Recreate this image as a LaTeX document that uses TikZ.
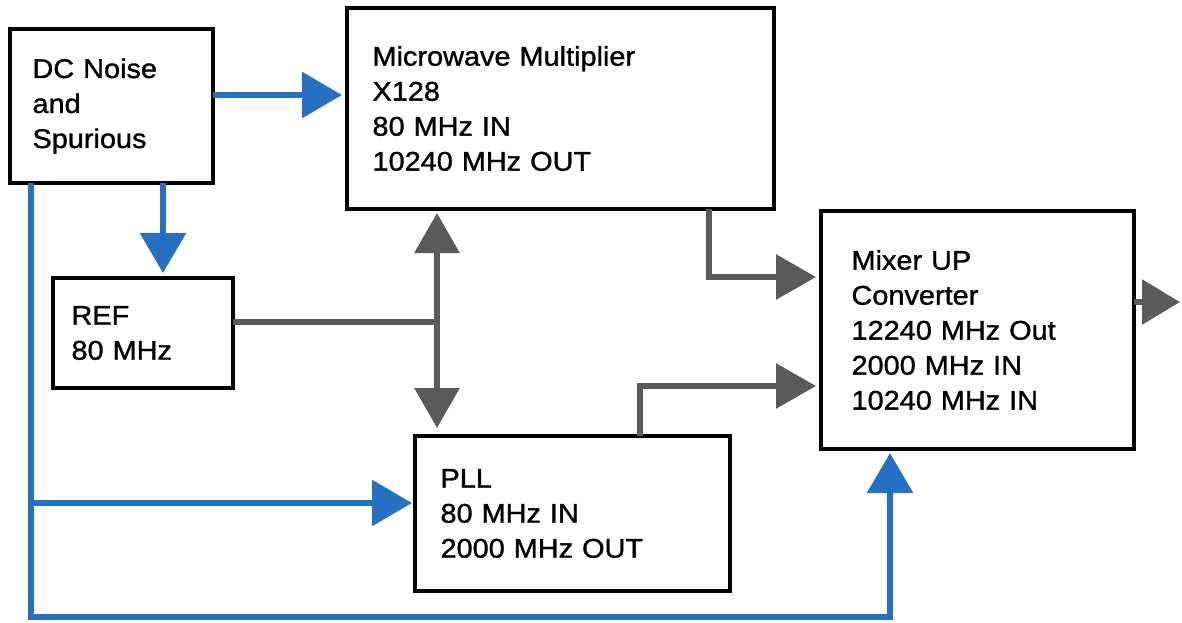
\documentclass[tikz,border=0pt]{standalone}
\usepackage{fontspec}
\setmainfont[FakeStretch=1.07,FakeBold=1.2]{Liberation Sans}
\usetikzlibrary{arrows.meta}
\definecolor{sigblue}{RGB}{38,112,196}
\definecolor{siggray}{RGB}{90,90,90}
\begin{document}
\begin{tikzpicture}[x=1pt,y=-1pt,every node/.style={font=\fontsize{27}{35}\selectfont}]
\tikzset{blk/.style={draw,line width=4pt,outer sep=0pt,anchor=north west,align=left,inner ysep=0pt},
  bl/.style={sigblue,line width=6pt},gr/.style={siggray,line width=6pt}}
\useasboundingbox (0,0) rectangle (1182,622);
\node[blk,minimum width=203pt,minimum height=154pt,inner xsep=22pt,text width=158pt] (dc) at (10,29) {DC Noise\\and\\Spurious};
\node[blk,minimum width=427pt,minimum height=201pt,inner xsep=25pt,text width=376pt] (mult) at (347,8) {Microwave Multiplier\\X128\\80 MHz IN\\10240 MHz OUT};
\node[blk,minimum width=180pt,minimum height=110pt,inner xsep=18pt,text width=143pt] (ref) at (53,278) {REF\\80 MHz};
\node[blk,minimum width=315pt,minimum height=155pt,inner xsep=25pt,text width=264pt] (pll) at (415,436) {PLL\\80 MHz IN\\2000 MHz OUT};
\node[blk,minimum width=313pt,minimum height=238pt,inner xsep=30pt,text width=252pt] (mix) at (821,211) {Mixer UP\\Converter\\12240 MHz Out\\2000 MHz IN\\10240 MHz IN};
\coordinate (jn) at (437,322); \coordinate (out) at (1180,302);
\draw[bl,-{Triangle[length=40pt,width=45pt]},shorten >=5pt] (dc.east |- 0,95) -- (mult.west |- 0,95);
\draw[bl,-{Triangle[length=40pt,width=45pt]},shorten >=5pt] (dc.south -| 163,0) -- (ref.north -| 163,0);
\draw[bl,-{Triangle[length=40pt,width=45pt]},shorten >=4pt] (dc.south -| 31,0) |- (890,617) -- (mix.south -| 890,0);
\draw[bl,-{Triangle[length=40pt,width=45pt]},shorten >=3pt] (31,503) -- (pll.west |- 0,503);
\draw[gr] (ref.east |- jn) -- (jn);
\draw[gr,{Triangle[length=40pt,width=44pt]}-{Triangle[length=40pt,width=44pt]},shorten <=4pt,shorten >=8pt] (mult.south -| jn) -- (pll.north -| jn);
\draw[gr,-{Triangle[length=40pt,width=44pt]},shorten >=5pt] (mult.south -| 709,0) |- (mix.west |- 0,277);
\draw[gr,-{Triangle[length=40pt,width=44pt]},shorten >=5pt] (pll.north -| 640,0) |- (mix.west |- 0,386);
\draw[gr,-{Triangle[length=38pt,width=44pt]}] (mix.east |- out) -- (out);
\end{tikzpicture}
\end{document}
